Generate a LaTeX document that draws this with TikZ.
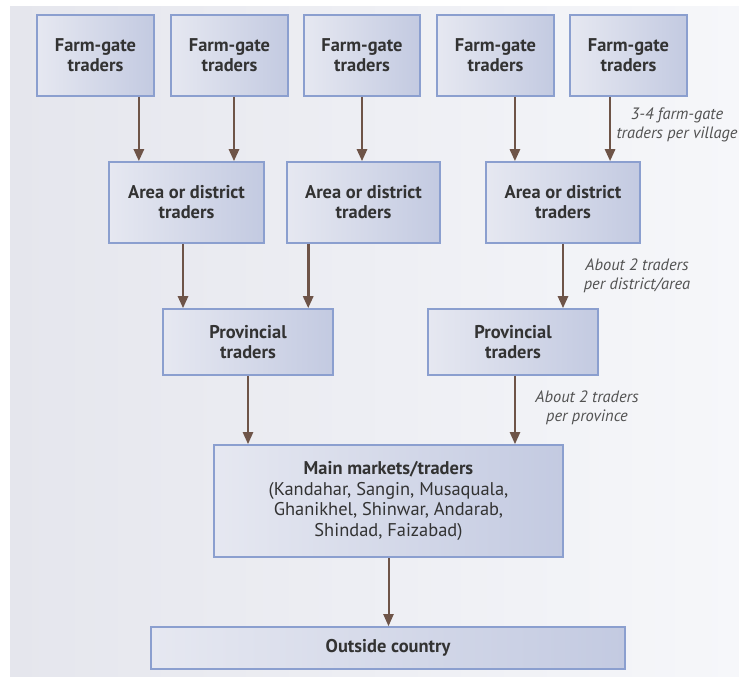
\documentclass[tikz,border=0pt]{standalone}
\usepackage{fontspec}
\setmainfont{PT Sans}
\usetikzlibrary{arrows.meta}
\definecolor{panelL}{HTML}{E5E6ED}
\definecolor{panelR}{HTML}{F6F7FA}
\definecolor{boxL}{HTML}{E6E8F1}
\definecolor{boxR}{HTML}{C3CAE1}
\definecolor{boxline}{HTML}{8B9FCF}
\definecolor{flowcol}{HTML}{6E5448}
\definecolor{txt}{HTML}{333333}

\begin{document}
\begin{tikzpicture}[x=1bp, y=-1bp,
	trader/.style = {draw = boxline, line width = 1.6bp, left color = boxL, right color = boxR,
		align = center, text = txt, font = \fontsize{18.5}{20}\selectfont\bfseries, inner sep = 0pt},
	note/.style = {align = center, text = txt!85, font = \fontsize{16.5}{19}\selectfont\itshape},
	flow/.style = {draw = flowcol, line width = 2.6bp, -{Triangle[length = 12bp, width = 10bp]}}]
	\useasboundingbox (0,0) rectangle (739,677);
	\shade[left color = panelL, right color = panelR] (10,7) rectangle (739,677);
	\node[trader, minimum width = 117bp, minimum height = 81bp] (fg1) at (95.5,55.5) {Farm-gate\\traders};
	\node[trader, minimum width = 117bp, minimum height = 81bp] (fg2) at (229.5,55.5) {Farm-gate\\traders};
	\node[trader, minimum width = 116bp, minimum height = 81bp] (fg3) at (362,55.5) {Farm-gate\\traders};
	\node[trader, minimum width = 117bp, minimum height = 81bp] (fg4) at (495.5,55.5) {Farm-gate\\traders};
	\node[trader, minimum width = 117bp, minimum height = 81bp] (fg5) at (628.5,55.5) {Farm-gate\\traders};
	\node[trader, minimum width = 155bp, minimum height = 81bp] (ad1) at (186.5,202.5) {Area or district\\traders};
	\node[trader, minimum width = 153bp, minimum height = 81bp] (ad2) at (363.5,202.5) {Area or district\\traders};
	\node[trader, minimum width = 154bp, minimum height = 81bp] (ad3) at (563,202.5) {Area or district\\traders};
	\node[trader, minimum width = 170bp, minimum height = 66bp] (pv1) at (248,342) {Provincial\\traders};
	\node[trader, minimum width = 170bp, minimum height = 66bp] (pv2) at (513,342) {Provincial\\traders};
	\node[trader, minimum width = 349bp, minimum height = 112bp, font = \fontsize{18.5}{21}\selectfont\bfseries] (main) at (388.5,501)
		{Main markets/traders\\{\mdseries(Kandahar, Sangin, Musaquala,}\\{\mdseries Ghanikhel, Shinwar, Andarab,}\\{\mdseries Shindad, Faizabad)}};
	\node[trader, minimum width = 474bp, minimum height = 42bp] (out) at (388,648) {Outside country};
	\node[note] (n1) at (677,125) {3-4 farm-gate\\traders per village};
	\node[note] (n2) at (637,276) {About 2 traders\\per district/area};
	\node[note] (n3) at (587,408) {About 2 traders\\per province};
	\draw[flow] ([xshift = -16]fg1.south east) -- ([xshift = -16]fg1.south east |- ad1.north);
	\draw[flow] ([xshift = 4.5]fg2.south) -- ([xshift = 4.5]fg2.south |- ad1.north);
	\draw[flow] (fg3.south) -- (fg3.south |- ad2.north);
	\draw[flow] ([xshift = 19.5]fg4.south) -- ([xshift = 19.5]fg4.south |- ad3.north);
	\draw[flow] ([xshift = -18.5]fg5.south) -- ([xshift = -18.5]fg5.south |- ad3.north);
	\draw[flow] ([xshift = -3.5]ad1.south) -- ([xshift = -3.5]ad1.south |- pv1.north);
	\draw[flow] ([xshift = -55.5]ad2.south) -- ([xshift = -55.5]ad2.south |- pv1.north);
	\draw[flow] (ad3.south) -- (ad3.south |- pv2.north);
	\draw[flow, line width = 2.2bp] (pv1.south) -- (pv1.south |- main.north);
	\draw[flow, line width = 2.2bp] ([xshift = 2]pv2.south) -- ([xshift = 2]pv2.south |- main.north);
	\draw[flow, line width = 2bp] (main.south) -- (main.south |- out.north);
\end{tikzpicture}
\end{document}
